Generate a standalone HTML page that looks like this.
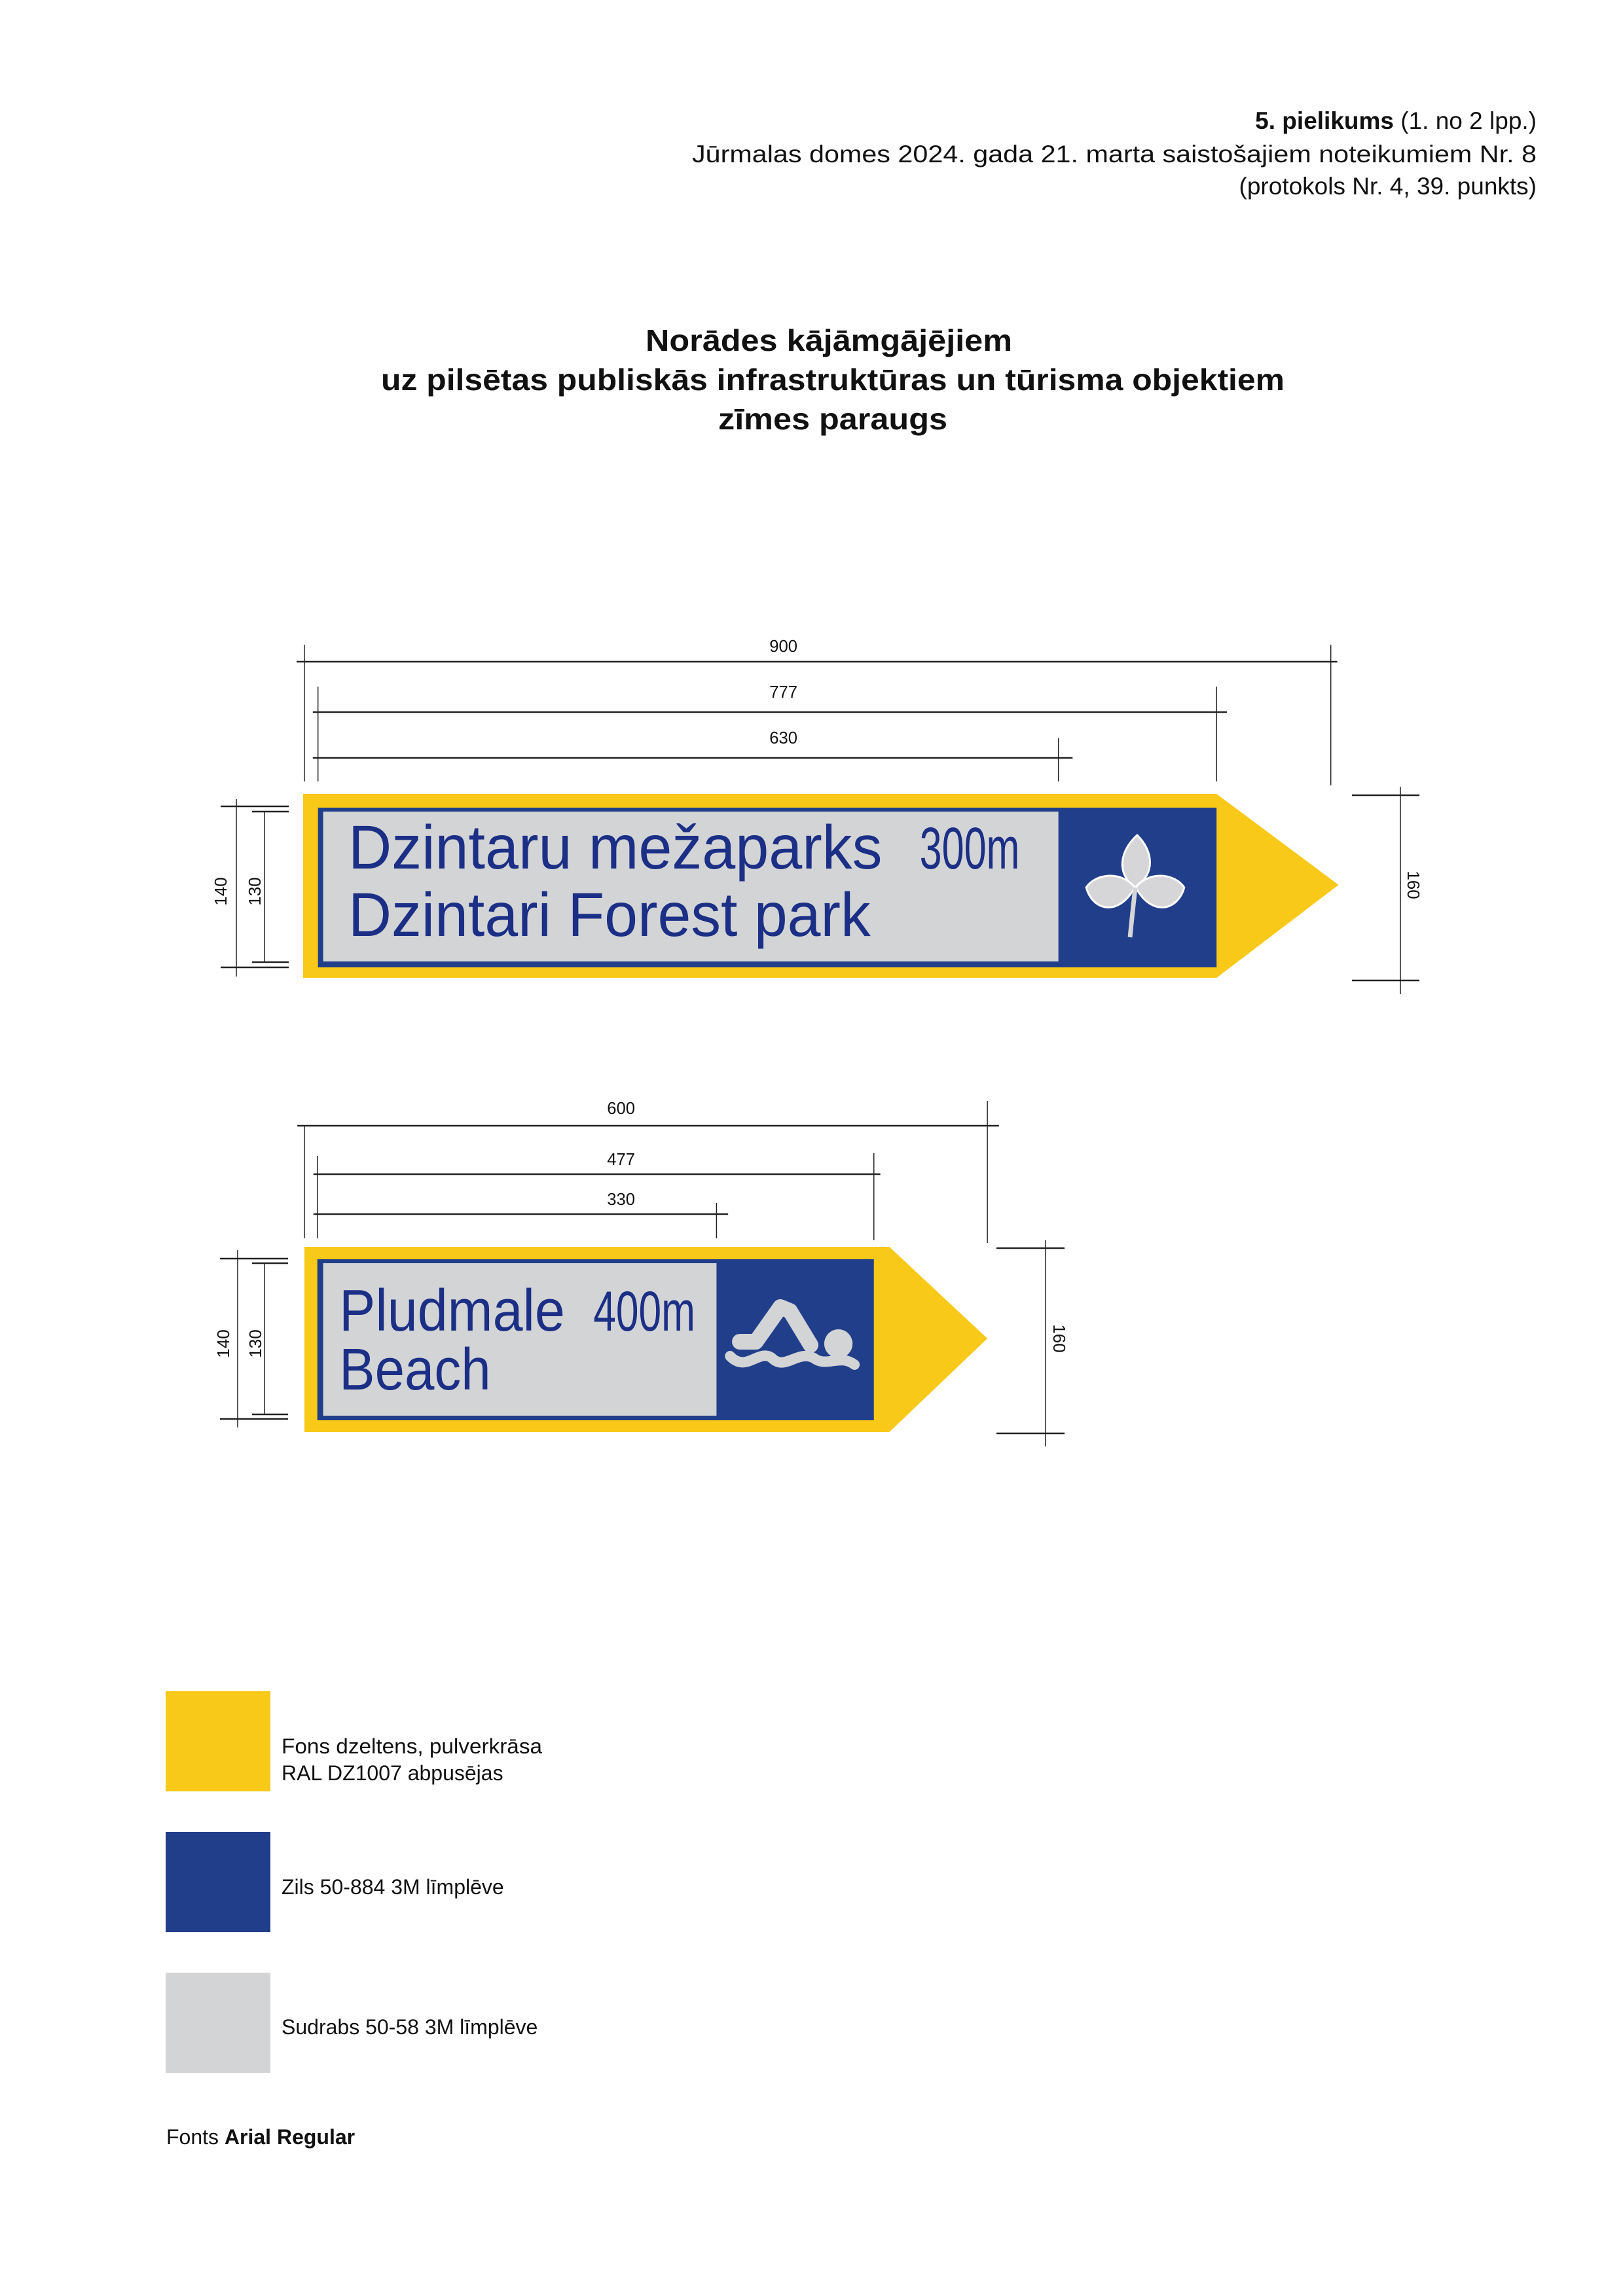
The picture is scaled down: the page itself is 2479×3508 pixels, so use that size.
<!DOCTYPE html>
<html><head><meta charset="utf-8"><style>
html,body{margin:0;padding:0;background:#fff}
svg{display:block}
text{font-family:"Liberation Sans",Arial,sans-serif}
</style></head><body>
<svg width="2479" height="3508" viewBox="0 0 2479 3508" xmlns="http://www.w3.org/2000/svg">
<rect width="2479" height="3508" fill="#fff"/>
<!-- header -->
<g font-size="37" fill="#111" text-anchor="end">
<text x="2347" y="197"><tspan font-weight="bold">5. pielikums</tspan>  (1. no 2 lpp.)</text>
<text x="2347" y="248" textLength="1290" lengthAdjust="spacingAndGlyphs">Jūrmalas domes 2024. gada 21. marta saistošajiem noteikumiem Nr. 8</text>
<text x="2347" y="297">(protokols Nr. 4, 39. punkts)</text>
</g>
<g font-size="46" font-weight="bold" fill="#111" text-anchor="middle">
<text x="1266" y="536" textLength="560" lengthAdjust="spacingAndGlyphs">Norādes kājāmgājējiem</text>
<text x="1272" y="596" textLength="1380" lengthAdjust="spacingAndGlyphs">uz pilsētas publiskās infrastruktūras un tūrisma objektiem</text>
<text x="1272" y="656" textLength="350" lengthAdjust="spacingAndGlyphs">zīmes paraugs</text>
</g>

<g transform="translate(463,0) scale(0.986,1) translate(-463,0)">
<!-- sign 1 dims -->
<g stroke="#222" stroke-width="2.5" fill="none">
<line x1="453" y1="1011" x2="2065" y2="1011"/>
<line x1="465" y1="985" x2="465" y2="1194" stroke-width="1.5"/>
<line x1="2055" y1="985" x2="2055" y2="1200" stroke-width="1.5"/>
<line x1="478" y1="1088" x2="1894" y2="1088"/>
<line x1="486" y1="1049" x2="486" y2="1194" stroke-width="1.5"/>
<line x1="1878" y1="1049" x2="1878" y2="1194" stroke-width="1.5"/>
<line x1="478" y1="1158" x2="1655" y2="1158"/>
<line x1="1633" y1="1128" x2="1633" y2="1194" stroke-width="1.5"/>
</g>
<g font-size="26" fill="#111" text-anchor="middle">
<text x="1207" y="996">900</text>
<text x="1207" y="1066">777</text>
<text x="1207" y="1136">630</text>
</g>
<!-- sign 1 -->
<polygon points="463,1213 1878,1213 2067,1352 1878,1494 463,1494" fill="#f8c918"/>
<rect x="486" y="1234" width="1392" height="244" fill="#213e8a"/>
<rect x="494" y="1240" width="1139" height="229" fill="#d3d4d6"/>
<g fill="#1b2f86">
<text x="533" y="1327" font-size="95" textLength="827" lengthAdjust="spacingAndGlyphs">Dzintaru mežaparks</text>
<text x="1418" y="1327" font-size="90" textLength="155" lengthAdjust="spacingAndGlyphs">300m</text>
<text x="533" y="1430" font-size="95" textLength="809" lengthAdjust="spacingAndGlyphs">Dzintari Forest park</text>
</g>
<g fill="#d6d6d8" stroke="#fff" stroke-width="3">
<path d="M1755,1276 C1728,1300 1722,1335 1752,1356 C1784,1335 1780,1300 1755,1276Z"/>
<path d="M1750,1354 C1728,1330 1690,1335 1676,1356 C1686,1392 1726,1400 1750,1358Z"/>
<path d="M1754,1354 C1776,1330 1814,1335 1828,1356 C1818,1392 1778,1400 1754,1358Z"/>
</g>
<path d="M1752,1356 C1749,1385 1746,1410 1744,1432" fill="none" stroke="#d6d6d8" stroke-width="7"/>
</g>
<!-- sign 1 side dims -->
<g stroke="#222" stroke-width="2.5" fill="none">
<line x1="361" y1="1221" x2="361" y2="1492" stroke-width="1.5"/>
<line x1="337" y1="1232" x2="441" y2="1232"/>
<line x1="337" y1="1478" x2="441" y2="1478"/>
<line x1="404" y1="1240" x2="404" y2="1470" stroke-width="1.5"/>
<line x1="385" y1="1240" x2="441" y2="1240"/>
<line x1="385" y1="1470" x2="441" y2="1470"/>
<line x1="2139" y1="1202" x2="2139" y2="1519" stroke-width="1.5"/>
<line x1="2065" y1="1215" x2="2168" y2="1215"/>
<line x1="2065" y1="1498" x2="2168" y2="1498"/>
</g>
<g font-size="26" fill="#111" text-anchor="middle">
<text transform="translate(346,1362) rotate(-90)">140</text>
<text transform="translate(398,1362) rotate(-90)">130</text>
<text transform="translate(2150,1352) rotate(90)">160</text>
</g>

<g transform="translate(465,0) scale(0.985,1) translate(-465,0)">
<!-- sign 2 dims -->
<g stroke="#222" stroke-width="2.5" fill="none">
<line x1="454" y1="1720" x2="1542" y2="1720"/>
<line x1="465" y1="1720" x2="465" y2="1892" stroke-width="1.5"/>
<line x1="1524" y1="1682" x2="1524" y2="1899" stroke-width="1.5"/>
<line x1="479" y1="1794" x2="1358" y2="1794"/>
<line x1="485" y1="1766" x2="485" y2="1892" stroke-width="1.5"/>
<line x1="1348" y1="1762" x2="1348" y2="1895" stroke-width="1.5"/>
<line x1="479" y1="1855" x2="1122" y2="1855"/>
<line x1="1104" y1="1838" x2="1104" y2="1892" stroke-width="1.5"/>
</g>
<g font-size="26" fill="#111" text-anchor="middle">
<text x="956" y="1702">600</text>
<text x="956" y="1780">477</text>
<text x="956" y="1841">330</text>
</g>
<!-- sign 2 -->
<polygon points="465,1905 1372,1905 1524,2045 1372,2188 465,2188" fill="#f8c918"/>
<rect x="485" y="1924" width="863" height="246" fill="#213e8a"/>
<rect x="494" y="1930" width="610" height="233" fill="#d3d4d6"/>
<g fill="#1b2f86">
<text x="519" y="2033" font-size="90" textLength="350" lengthAdjust="spacingAndGlyphs">Pludmale</text>
<text x="913" y="2033" font-size="86" textLength="158" lengthAdjust="spacingAndGlyphs">400m</text>
<text x="519" y="2123" font-size="90" textLength="235" lengthAdjust="spacingAndGlyphs">Beach</text>
</g>
<g fill="none" stroke="#d3d4d6" stroke-linecap="round" stroke-linejoin="round">
<path d="M1140,2050 L1165,2050 L1203,1997 L1218,2003 L1250,2055" stroke-width="24"/>
<path d="M1125,2072 C1150,2098 1170,2060 1190,2075 C1210,2095 1230,2062 1255,2075 C1275,2090 1295,2068 1318,2085" stroke-width="16"/>
</g>
<circle cx="1293" cy="2053" r="22" fill="#d3d4d6"/>
</g>
<!-- sign 2 side dims -->
<g stroke="#222" stroke-width="2.5" fill="none">
<line x1="363" y1="1910" x2="363" y2="2181" stroke-width="1.5"/>
<line x1="336" y1="1923" x2="440" y2="1923"/>
<line x1="336" y1="2168" x2="440" y2="2168"/>
<line x1="404" y1="1930" x2="404" y2="2161" stroke-width="1.5"/>
<line x1="385" y1="1930" x2="440" y2="1930"/>
<line x1="385" y1="2161" x2="440" y2="2161"/>
<line x1="1597" y1="1895" x2="1597" y2="2210" stroke-width="1.5"/>
<line x1="1522" y1="1907" x2="1626" y2="1907"/>
<line x1="1522" y1="2190" x2="1626" y2="2190"/>
</g>
<g font-size="26" fill="#111" text-anchor="middle">
<text transform="translate(350,2053) rotate(-90)">140</text>
<text transform="translate(399,2053) rotate(-90)">130</text>
<text transform="translate(1609,2045) rotate(90)">160</text>
</g>

<!-- legend -->
<rect x="253" y="2584" width="160" height="153" fill="#f8c918"/>
<rect x="253" y="2799" width="160" height="153" fill="#213e8a"/>
<rect x="253" y="3014" width="160" height="153" fill="#d3d4d6"/>
<g font-size="32" fill="#111">
<text x="430" y="2679" textLength="398" lengthAdjust="spacingAndGlyphs">Fons dzeltens, pulverkrāsa</text>
<text x="430" y="2720">RAL DZ1007 abpusējas</text>
<text x="430" y="2894">Zils 50-884 3M līmplēve</text>
<text x="430" y="3108">Sudrabs 50-58 3M līmplēve</text>
<text x="254" y="3276">Fonts <tspan font-weight="bold">Arial Regular</tspan></text>
</g>
</svg>
</body></html>
